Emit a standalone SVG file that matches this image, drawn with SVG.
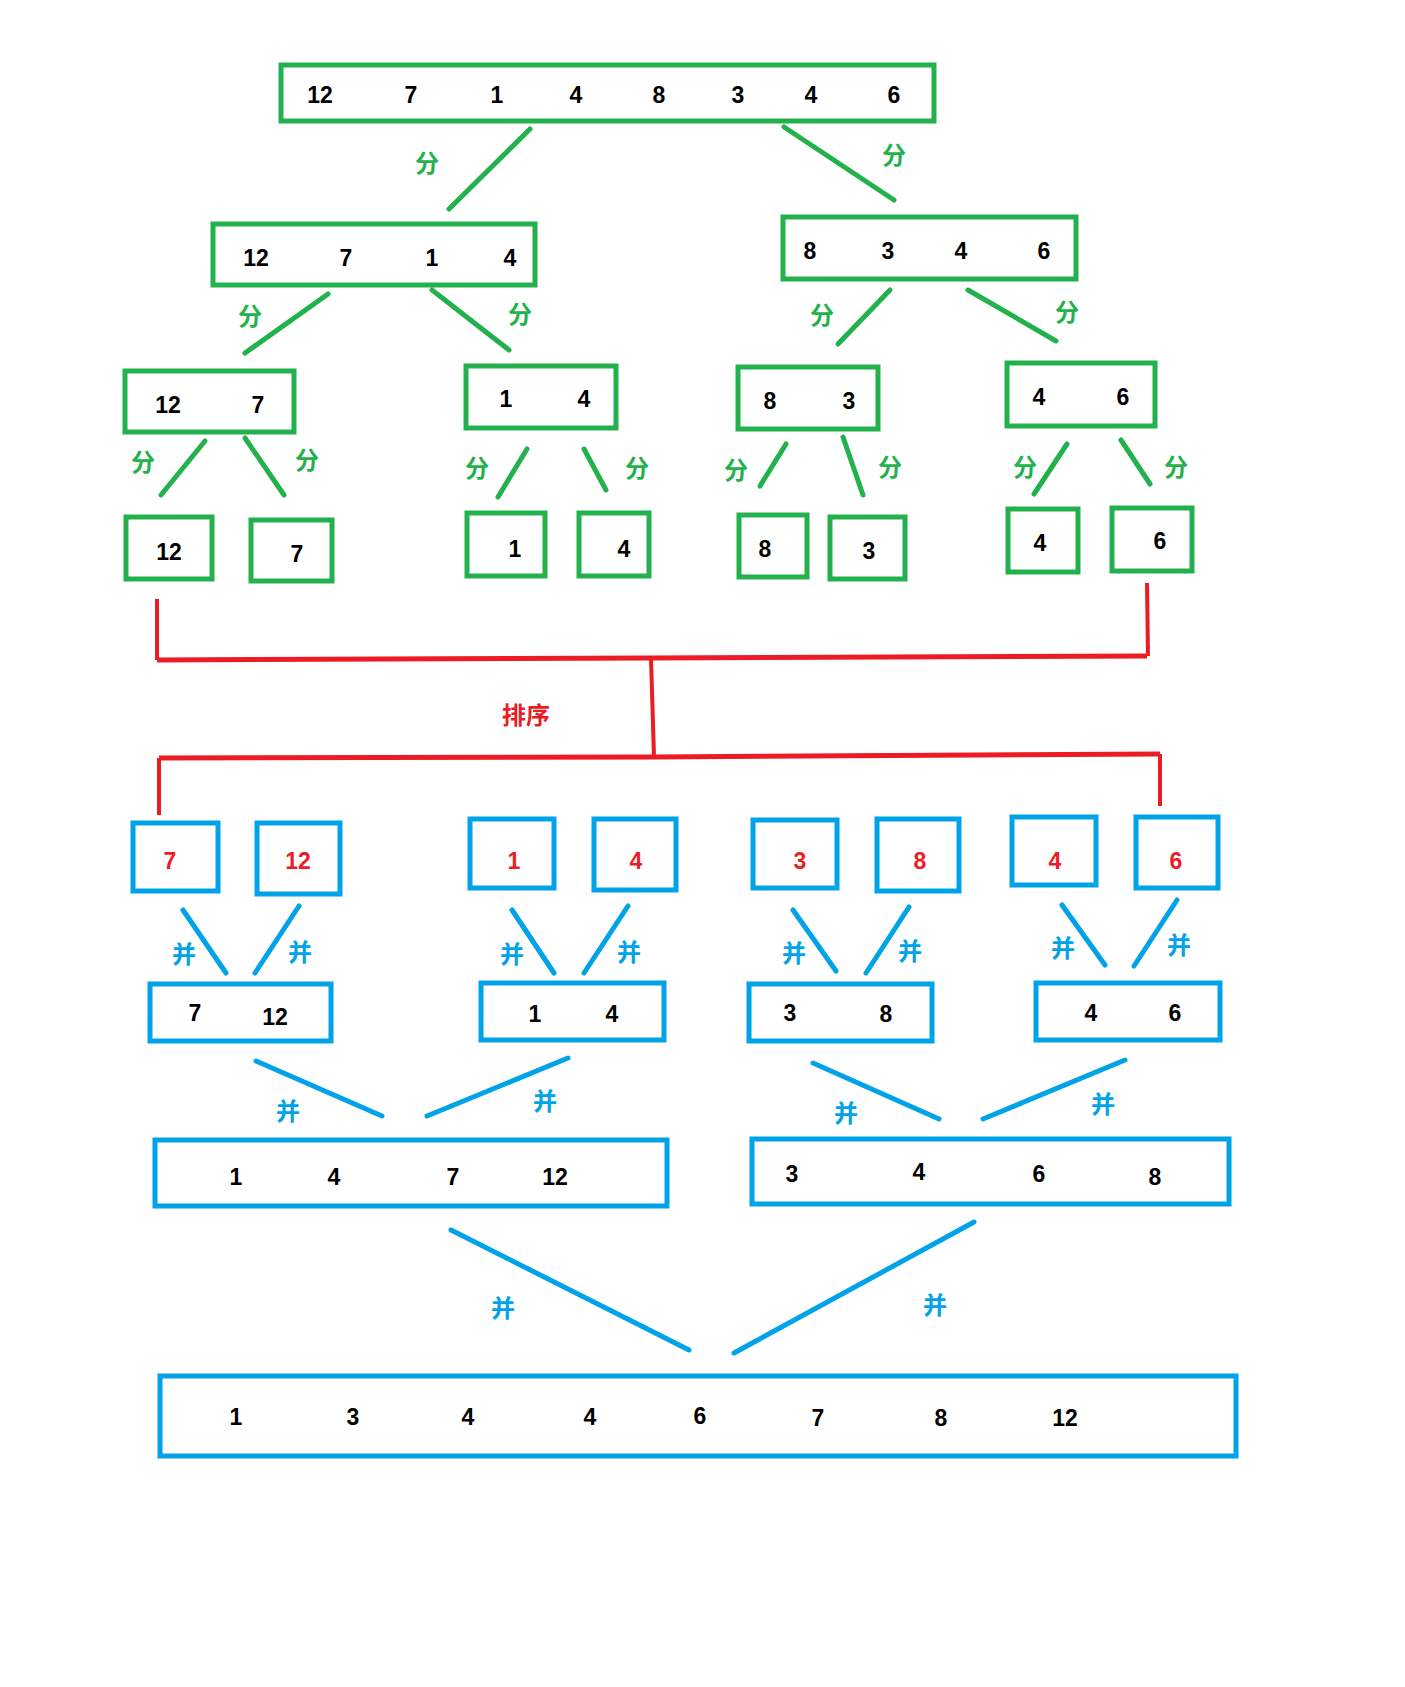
<svg xmlns="http://www.w3.org/2000/svg" width="1405" height="1687" viewBox="0 0 1405 1687">
<style>
.bg{fill:#ffffff}
.gb{fill:none;stroke:#22b14c;stroke-width:5}
.bb{fill:none;stroke:#00a2e8;stroke-width:5}
.n{font-family:"Liberation Sans",Arial,sans-serif;font-weight:bold;font-size:23px;fill:#000;text-anchor:middle;dominant-baseline:central}
.nr{fill:#ed1c24}
.lg{font-family:"Noto Sans CJK SC",sans-serif;font-weight:bold;font-size:24px;fill:#22b14c;text-anchor:middle;dominant-baseline:central}
.lb{font-family:"Noto Sans CJK SC",sans-serif;font-weight:bold;font-size:24px;fill:#00a2e8;text-anchor:middle;dominant-baseline:central}
.lr{font-family:"Noto Sans CJK SC",sans-serif;font-weight:bold;font-size:24px;fill:#ed1c24;text-anchor:middle;dominant-baseline:central}
.eg{stroke:#22b14c;stroke-width:5;stroke-linecap:round;fill:none}
.eb{stroke:#00a2e8;stroke-width:5;stroke-linecap:round;fill:none}
.er{stroke:#ed1c24;stroke-width:4;fill:none}
.erw{stroke:#ed1c24;stroke-width:5;fill:none}
</style>
<rect class="bg" x="0" y="0" width="1405" height="1687"/>

<g id="connectors">
  <!-- split lines (green) -->
  <line class="eg" x1="530" y1="129" x2="449" y2="209"/>
  <line class="eg" x1="784" y1="127" x2="894" y2="200"/>
  <line class="eg" x1="328" y1="294" x2="245" y2="353"/>
  <line class="eg" x1="432" y1="290" x2="509" y2="350"/>
  <line class="eg" x1="890" y1="290" x2="838" y2="344"/>
  <line class="eg" x1="968" y1="290" x2="1056" y2="341"/>
  <line class="eg" x1="205" y1="441" x2="161" y2="495"/>
  <line class="eg" x1="245" y1="438" x2="284" y2="495"/>
  <line class="eg" x1="527" y1="449" x2="498" y2="497"/>
  <line class="eg" x1="584" y1="449" x2="606" y2="490"/>
  <line class="eg" x1="786" y1="444" x2="760" y2="486"/>
  <line class="eg" x1="843" y1="437" x2="863" y2="495"/>
  <line class="eg" x1="1067" y1="444" x2="1034" y2="494"/>
  <line class="eg" x1="1121" y1="440" x2="1150" y2="484"/>
  <!-- sort bracket (red) -->
  <polyline class="er" points="157,599 157,660"/>
  <polyline class="erw" points="157,660 651,658 1147,656"/>
  <polyline class="er" points="1147,583 1148,656"/>
  <polyline class="er" points="651,658 654,757"/>
  <polyline class="erw" points="159,758 654,757 1160,754"/>
  <polyline class="er" points="159,758 159,815"/>
  <polyline class="er" points="1160,754 1160,806"/>
  <!-- merge lines (blue) -->
  <line class="eb" x1="183" y1="910" x2="226" y2="973"/>
  <line class="eb" x1="299" y1="906" x2="255" y2="973"/>
  <line class="eb" x1="512" y1="910" x2="554" y2="973"/>
  <line class="eb" x1="628" y1="906" x2="584" y2="973"/>
  <line class="eb" x1="793" y1="910" x2="836" y2="971"/>
  <line class="eb" x1="909" y1="907" x2="866" y2="973"/>
  <line class="eb" x1="1062" y1="905" x2="1105" y2="965"/>
  <line class="eb" x1="1177" y1="900" x2="1134" y2="966"/>
  <line class="eb" x1="256" y1="1061" x2="382" y2="1116"/>
  <line class="eb" x1="568" y1="1058" x2="427" y2="1116"/>
  <line class="eb" x1="813" y1="1063" x2="939" y2="1119"/>
  <line class="eb" x1="1125" y1="1060" x2="983" y2="1119"/>
  <line class="eb" x1="451" y1="1230" x2="689" y2="1350"/>
  <line class="eb" x1="974" y1="1222" x2="734" y2="1353"/>
  <!-- labels -->
  <text class="lg" x="427" y="161">分</text>
  <text class="lg" x="894" y="153">分</text>
  <text class="lg" x="250" y="314">分</text>
  <text class="lg" x="520" y="312">分</text>
  <text class="lg" x="822" y="313">分</text>
  <text class="lg" x="1067" y="310">分</text>
  <text class="lg" x="143" y="460">分</text>
  <text class="lg" x="307" y="458">分</text>
  <text class="lg" x="477" y="466">分</text>
  <text class="lg" x="637" y="466">分</text>
  <text class="lg" x="736" y="468">分</text>
  <text class="lg" x="890" y="465">分</text>
  <text class="lg" x="1025" y="465">分</text>
  <text class="lg" x="1176" y="465">分</text>
  <text class="lr" x="526" y="713">排序</text>
  <text class="lb" x="184" y="952">并</text>
  <text class="lb" x="300" y="950">并</text>
  <text class="lb" x="512" y="952">并</text>
  <text class="lb" x="629" y="950">并</text>
  <text class="lb" x="794" y="951">并</text>
  <text class="lb" x="910" y="949">并</text>
  <text class="lb" x="1063" y="946">并</text>
  <text class="lb" x="1179" y="943">并</text>
  <text class="lb" x="288" y="1109">并</text>
  <text class="lb" x="545" y="1099">并</text>
  <text class="lb" x="846" y="1111">并</text>
  <text class="lb" x="1103" y="1102">并</text>
  <text class="lb" x="503" y="1306">并</text>
  <text class="lb" x="935" y="1303">并</text>
</g>

<!-- Level 1 -->
<g id="n-root">
  <rect class="gb" x="281" y="65" width="653" height="56"/>
  <text class="n" x="320" y="95">12</text><text class="n" x="411" y="95">7</text>
  <text class="n" x="497" y="95">1</text><text class="n" x="576" y="95">4</text>
  <text class="n" x="659" y="95">8</text><text class="n" x="738" y="95">3</text>
  <text class="n" x="811" y="95">4</text><text class="n" x="894" y="95">6</text>
</g>
<!-- Level 2 -->
<g id="n-L">
  <rect class="gb" x="213" y="224" width="322" height="61"/>
  <text class="n" x="256" y="258">12</text><text class="n" x="346" y="258">7</text>
  <text class="n" x="432" y="258">1</text><text class="n" x="510" y="258">4</text>
</g>
<g id="n-R">
  <rect class="gb" x="783" y="217" width="293" height="62"/>
  <text class="n" x="810" y="251">8</text><text class="n" x="888" y="251">3</text>
  <text class="n" x="961" y="251">4</text><text class="n" x="1044" y="251">6</text>
</g>
<!-- Level 3 -->
<g id="n-LL">
  <rect class="gb" x="125" y="371" width="169" height="61"/>
  <text class="n" x="168" y="405">12</text><text class="n" x="258" y="405">7</text>
</g>
<g id="n-LR">
  <rect class="gb" x="466" y="366" width="150" height="62"/>
  <text class="n" x="506" y="399">1</text><text class="n" x="584" y="399">4</text>
</g>
<g id="n-RL">
  <rect class="gb" x="738" y="367" width="140" height="62"/>
  <text class="n" x="770" y="401">8</text><text class="n" x="849" y="401">3</text>
</g>
<g id="n-RR">
  <rect class="gb" x="1007" y="363" width="148" height="63"/>
  <text class="n" x="1039" y="397">4</text><text class="n" x="1123" y="397">6</text>
</g>
<!-- Level 4 -->
<g id="s-12"><rect class="gb" x="126" y="517" width="86" height="62"/><text class="n" x="169" y="552">12</text></g>
<g id="s-7"><rect class="gb" x="251" y="520" width="81" height="61"/><text class="n" x="297" y="554">7</text></g>
<g id="s-1"><rect class="gb" x="467" y="513" width="78" height="63"/><text class="n" x="515" y="549">1</text></g>
<g id="s-4"><rect class="gb" x="579" y="513" width="70" height="63"/><text class="n" x="624" y="549">4</text></g>
<g id="s-8"><rect class="gb" x="739" y="515" width="68" height="62"/><text class="n" x="765" y="549">8</text></g>
<g id="s-3"><rect class="gb" x="830" y="517" width="75" height="62"/><text class="n" x="869" y="551">3</text></g>
<g id="s-4b"><rect class="gb" x="1008" y="509" width="70" height="63"/><text class="n" x="1040" y="543">4</text></g>
<g id="s-6"><rect class="gb" x="1112" y="508" width="80" height="63"/><text class="n" x="1160" y="541">6</text></g>
<!-- Level 5 (sorted singles) -->
<g id="m-7"><rect class="bb" x="133" y="823" width="85" height="68"/><text class="n nr" x="170" y="861">7</text></g>
<g id="m-12"><rect class="bb" x="257" y="823" width="83" height="71"/><text class="n nr" x="298" y="861">12</text></g>
<g id="m-1"><rect class="bb" x="470" y="819" width="84" height="69"/><text class="n nr" x="514" y="861">1</text></g>
<g id="m-4"><rect class="bb" x="594" y="819" width="82" height="71"/><text class="n nr" x="636" y="861">4</text></g>
<g id="m-3"><rect class="bb" x="753" y="820" width="84" height="68"/><text class="n nr" x="800" y="861">3</text></g>
<g id="m-8"><rect class="bb" x="877" y="819" width="82" height="72"/><text class="n nr" x="920" y="861">8</text></g>
<g id="m-4b"><rect class="bb" x="1012" y="817" width="84" height="68"/><text class="n nr" x="1055" y="861">4</text></g>
<g id="m-6"><rect class="bb" x="1136" y="817" width="82" height="71"/><text class="n nr" x="1176" y="861">6</text></g>
<!-- Level 6 -->
<g id="p-7-12"><rect class="bb" x="150" y="984" width="181" height="57"/>
  <text class="n" x="195" y="1013">7</text><text class="n" x="275" y="1017">12</text></g>
<g id="p-1-4"><rect class="bb" x="481" y="983" width="183" height="57"/>
  <text class="n" x="535" y="1014">1</text><text class="n" x="612" y="1014">4</text></g>
<g id="p-3-8"><rect class="bb" x="749" y="984" width="183" height="57"/>
  <text class="n" x="790" y="1013">3</text><text class="n" x="886" y="1014">8</text></g>
<g id="p-4-6"><rect class="bb" x="1036" y="983" width="184" height="57"/>
  <text class="n" x="1091" y="1013">4</text><text class="n" x="1175" y="1013">6</text></g>
<!-- Level 7 -->
<g id="q-L"><rect class="bb" x="155" y="1140" width="512" height="66"/>
  <text class="n" x="236" y="1177">1</text><text class="n" x="334" y="1177">4</text>
  <text class="n" x="453" y="1177">7</text><text class="n" x="555" y="1177">12</text></g>
<g id="q-R"><rect class="bb" x="752" y="1139" width="477" height="65"/>
  <text class="n" x="792" y="1174">3</text><text class="n" x="919" y="1172">4</text>
  <text class="n" x="1039" y="1174">6</text><text class="n" x="1155" y="1177">8</text></g>
<!-- Final -->
<g id="final"><rect class="bb" x="160" y="1376" width="1076" height="80"/>
  <text class="n" x="236" y="1417">1</text><text class="n" x="353" y="1417">3</text>
  <text class="n" x="468" y="1417">4</text><text class="n" x="590" y="1417">4</text>
  <text class="n" x="700" y="1416">6</text><text class="n" x="818" y="1418">7</text>
  <text class="n" x="941" y="1418">8</text><text class="n" x="1065" y="1418">12</text></g>
</svg>
